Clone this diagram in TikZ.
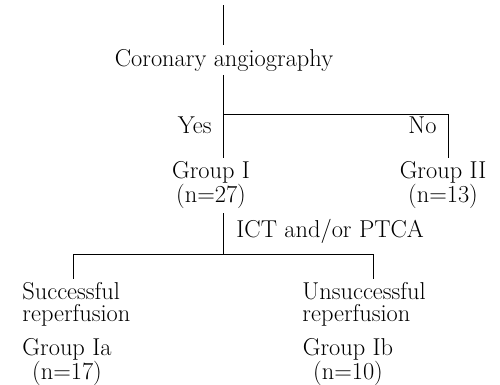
\documentclass[tikz,border=0pt]{standalone}
\usepackage{tikz}
\usetikzlibrary{positioning}

\begin{document}
\begin{tikzpicture}[x=1pt, y=-1pt, line width=0.9pt,
                    every node/.style={font=\fontsize{24.4}{22}\selectfont},
                    branch/.style={anchor=base east},
                    group/.style={anchor=north, align=center},
                    outcome/.style={anchor=north west, align=left}]
  \useasboundingbox (0,0) rectangle (500,384);

  % Angiography and first split
  \coordinate (top) at (223,5);
  \node (angio) at (224,60) {Coronary angiography};
  \coordinate (fork) at (223,114);
  \coordinate (noend) at (448,114);
  \node[group] (g1) at (211,157.5) {Group I\\(n=27)};
  \node[group] (g2) at (443,157.5) {Group II\\(n=13)};
  \node[branch] (yes) at (215.3,133) {Yes};
  \node[branch] (no) at (440.3,133) {No};
  \draw (top) -- (top |- angio.north);
  \draw (angio.south -| fork) -- (fork |- g1.north);
  \draw (fork) -- (noend) -- (noend |- g2.north);

  % Treatment of group I
  \coordinate (ictTop) at (223,213);
  \coordinate (split) at (223,254);
  \coordinate (left) at (73,254);
  \coordinate (right) at (373,254);
  \node[anchor=base west] (ict) at (232.7,237) {ICT and/or PTCA};
  \draw (ictTop) -- (split);
  \draw (left) -- (right);

  % Outcome of reperfusion
  \node[outcome] (succ) at (18.7,278.8) {Successful\\reperfusion};
  \node[outcome] (unsucc) at (298.7,278.8) {Unsuccessful\\reperfusion};
  \node[group] (g1a) at (67,335) {Group Ia\\(n=17)};
  \node[group] (g1b) at (348,335) {Group Ib\\(n=10)};
  \draw (left) -- (left |- succ.north);
  \draw (right) -- (right |- unsucc.north);
\end{tikzpicture}
\end{document}
